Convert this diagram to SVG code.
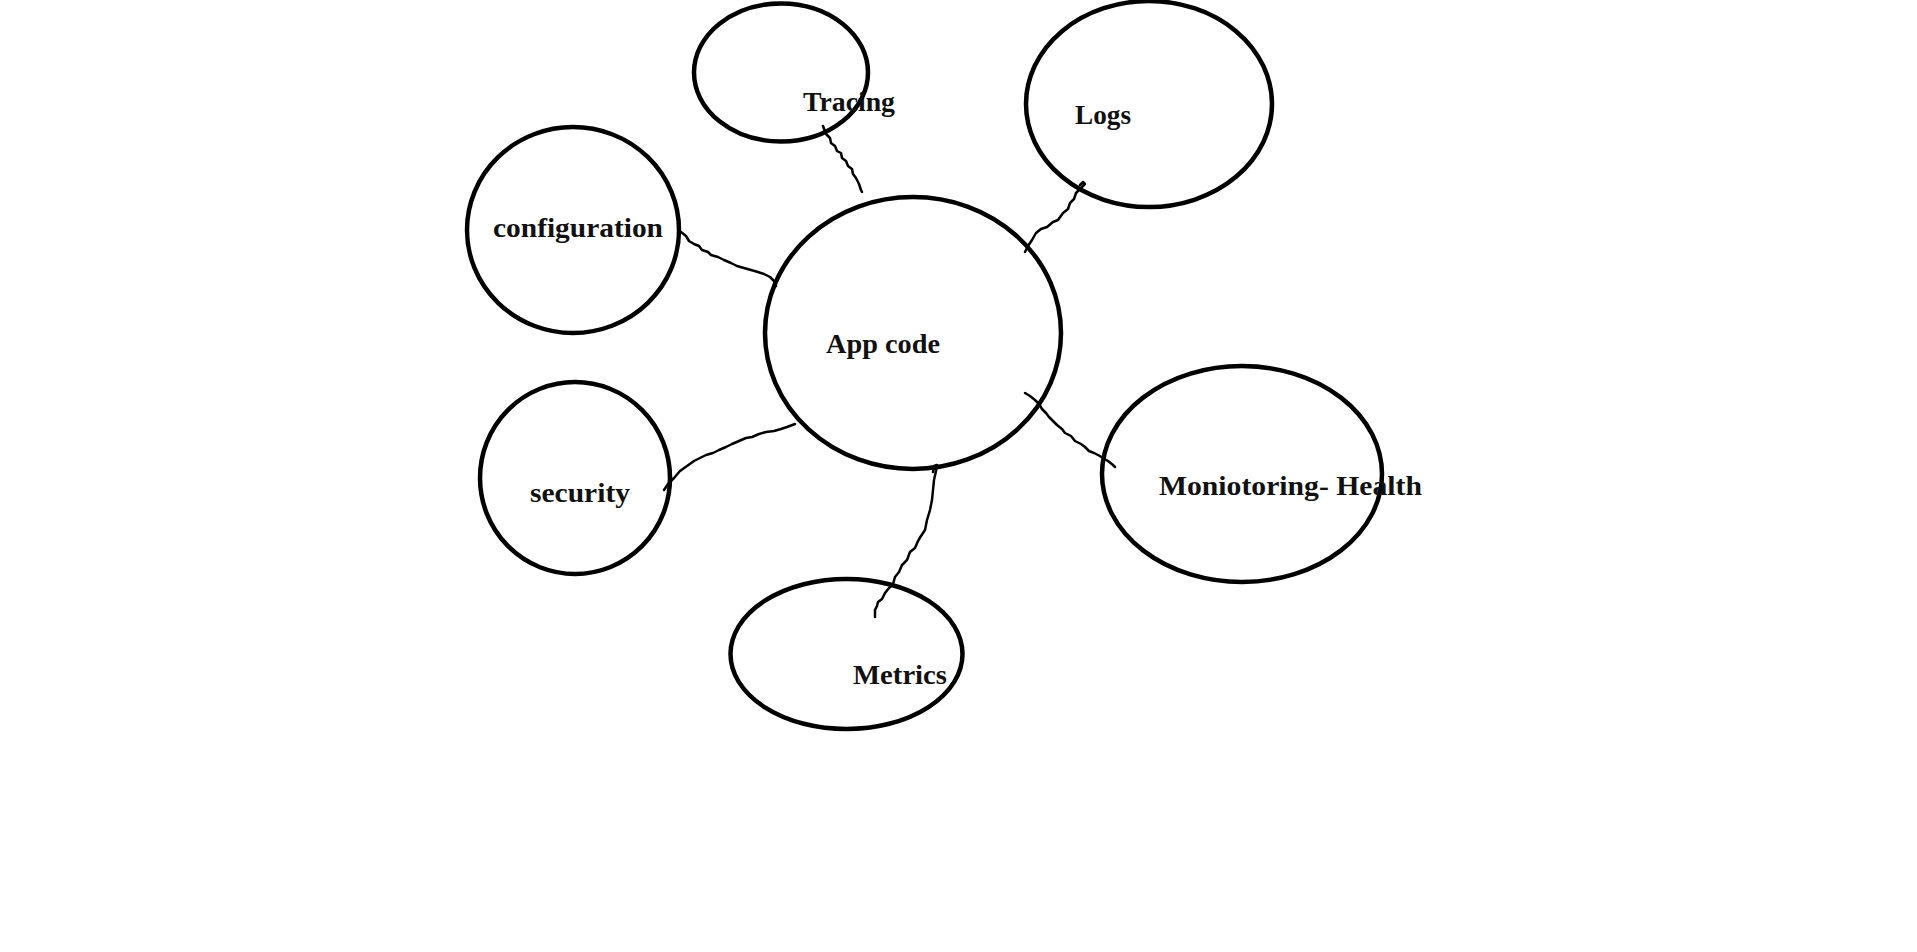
<svg xmlns="http://www.w3.org/2000/svg" width="1917" height="952" viewBox="0 0 1917 952">
<style>
.node{fill:none;stroke:#000;stroke-width:4.5}
.lbl{font-family:"Liberation Serif","DejaVu Serif",serif;font-weight:bold;font-size:27px;fill:#111}
.conn{fill:none;stroke:#000;stroke-width:2.5;stroke-linejoin:round;stroke-linecap:round}
</style>
<rect width="1917" height="952" fill="#fff"/>
<g id="connectors">
<path class="conn" d="M823,126 L826,134 L830,138 L831,143 L835,146 L837,151 L841,153 L842,158 L846,161 L848,166 L852,169 L853,174 L856,178 L859,184 L861,190 L862,192"/>
<path class="conn" d="M1080,185 L1083,182 L1085,184 L1080,189 L1076,193 L1074,199 L1070,203 L1068,209 L1063,213 L1058,220 L1053,222 L1047,227 L1041,229 L1036,233 L1032,240 L1028,246 L1025,252"/>
<path class="conn" d="M681,232 L686,236 L689,241 L694,244 L699,246 L702,250 L708,252 L711,255 L718,257 L724,260 L731,263 L737,266 L744,268 L751,270 L758,272 L764,274 L770,277 L774,281 L776,286"/>
<path class="conn" d="M664,490 L668,484 L674,478 L680,471 L687,466 L694,461 L700,458 L706,455 L713,453 L719,450 L726,447 L732,444 L739,441 L746,438 L752,437 L759,434 L766,432 L774,431 L781,429 L787,427 L795,424"/>
<path class="conn" d="M933,472 L934,466 L937,465 L936,471 L934,480 L933,490 L932,500 L930,510 L927,520 L925,530 L921,536 L918,541 L915,548 L910,552 L907,560 L902,565 L899,572 L895,577 L893,584 L889,588 L885,593 L882,599 L878,602 L877,606 L875,610 L875,617"/>
<path class="conn" d="M1025,393 L1030,396 L1035,400 L1039,404 L1042,409 L1046,413 L1049,417 L1053,421 L1057,425 L1062,429 L1065,433 L1071,436 L1075,441 L1081,444 L1085,447 L1089,451 L1094,453 L1098,455 L1103,458 L1108,461 L1113,465 L1115,467"/>
</g>
<g id="node-tracing">
<ellipse class="node" cx="781" cy="72.5" rx="87" ry="69"/>
<text class="lbl" x="803" y="111" textLength="92" lengthAdjust="spacingAndGlyphs">Tracing</text>
</g>
<g id="node-logs">
<ellipse class="node" cx="1149" cy="104" rx="123" ry="103"/>
<text class="lbl" x="1075" y="124" textLength="56" lengthAdjust="spacingAndGlyphs">Logs</text>
</g>
<g id="node-configuration">
<ellipse class="node" cx="573" cy="230" rx="106" ry="103"/>
<text class="lbl" x="493" y="237" textLength="170" lengthAdjust="spacingAndGlyphs">configuration</text>
</g>
<g id="node-appcode">
<ellipse class="node" cx="913" cy="333" rx="148" ry="136"/>
<text class="lbl" x="826" y="353" textLength="114" lengthAdjust="spacingAndGlyphs">App code</text>
</g>
<g id="node-security">
<ellipse class="node" cx="575" cy="478" rx="95" ry="96"/>
<text class="lbl" x="530" y="502" textLength="100" lengthAdjust="spacingAndGlyphs">security</text>
</g>
<g id="node-monitoring">
<ellipse class="node" cx="1242" cy="474" rx="140" ry="108"/>
<text class="lbl" x="1159" y="495" textLength="263" lengthAdjust="spacingAndGlyphs">Moniotoring- Health</text>
</g>
<g id="node-metrics">
<ellipse class="node" cx="846.5" cy="654" rx="116" ry="75"/>
<text class="lbl" x="853" y="684" textLength="94" lengthAdjust="spacingAndGlyphs">Metrics</text>
</g>
</svg>
